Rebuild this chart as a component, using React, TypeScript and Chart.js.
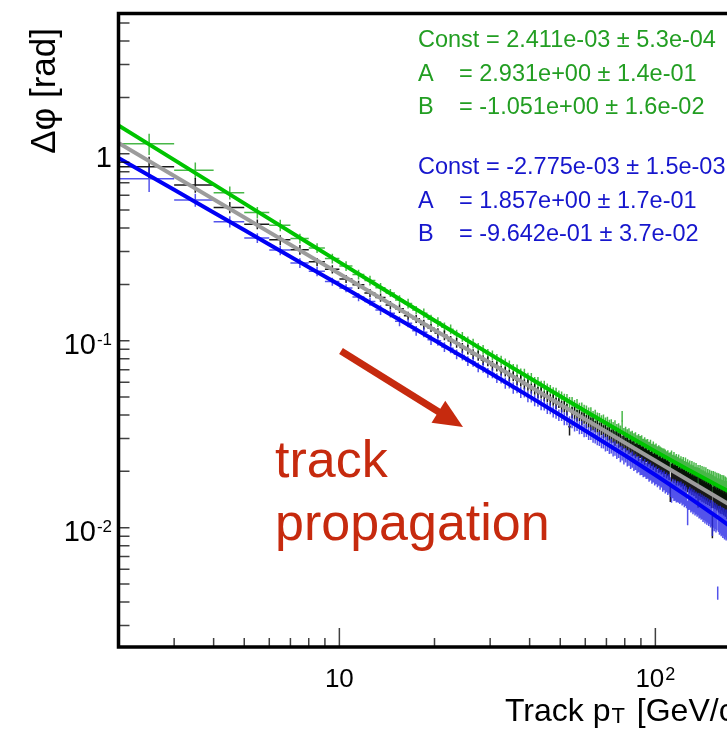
import React, { useEffect, useRef } from 'react';
import { Chart, registerables } from 'chart.js';

Chart.register(...registerables);

// Track pT histogram binning (GeV): 1 GeV wide bins from 2 GeV upward
const BIN_START = 2;
const BIN_WIDTH = 1;

// Mean Δφ per bin [rad]; one entry per bin, 2.5 … 169.5 GeV
const dphiGreen = [
  1.13, 0.815, 0.618, 0.484, 0.414, 0.352, 0.313, 0.275, 0.251, 0.226,
  0.210, 0.192, 0.180, 0.165, 0.158, 0.146, 0.140, 0.130, 0.126, 0.118,
  0.115, 0.108, 0.105, 0.0992, 0.0965, 0.0918, 0.0895, 0.0852, 0.0836, 0.0801,
  0.0784, 0.0751, 0.0739, 0.0708, 0.0697, 0.0669, 0.0661, 0.0636, 0.0627, 0.0604,
  0.0598, 0.0576, 0.0571, 0.0551, 0.0546, 0.0527, 0.0524, 0.0506, 0.0504, 0.0486,
  0.0484, 0.0467, 0.0467, 0.0450, 0.0451, 0.0435, 0.0436, 0.0420, 0.0421, 0.0407,
  0.0408, 0.0393, 0.0396, 0.0382, 0.0384, 0.0370, 0.0373, 0.0360, 0.0363, 0.0350,
  0.0352, 0.0340, 0.0344, 0.0332, 0.0335, 0.0323, 0.0372, 0.0316, 0.0318, 0.0308,
  0.0312, 0.0300, 0.0305, 0.0293, 0.0297, 0.0286, 0.0291, 0.0281, 0.0286, 0.0274,
  0.0279, 0.0269, 0.0273, 0.0264, 0.0268, 0.0258, 0.0263, 0.0253, 0.0259, 0.0248,
  0.0251, 0.0247, 0.0244, 0.0242, 0.0239, 0.0238, 0.0233, 0.0234, 0.0229, 0.0230,
  0.0233, 0.0223, 0.0229, 0.0219, 0.0225, 0.0216, 0.0222, 0.0212, 0.0219, 0.0209,
  0.0215, 0.0205, 0.0212, 0.0203, 0.0209, 0.0199, 0.0206, 0.0196, 0.0203, 0.0194,
  0.0200, 0.0191, 0.0198, 0.0188, 0.0195, 0.0186, 0.0193, 0.0183, 0.0191, 0.0181,
  0.0189, 0.0179, 0.0186, 0.0176, 0.0184, 0.0174, 0.0182, 0.0172, 0.0180, 0.0170,
  0.0178, 0.0168, 0.0176, 0.0166, 0.0174, 0.0164, 0.0173, 0.0162, 0.0171, 0.0160,
  0.0169, 0.0159, 0.0167, 0.0157, 0.0166, 0.0156, 0.0164, 0.0155,
];

const dphiBlack = [
  0.852, 0.680, 0.516, 0.420, 0.346, 0.306, 0.264, 0.241, 0.214, 0.199,
  0.180, 0.170, 0.155, 0.148, 0.136, 0.131, 0.122, 0.117, 0.110, 0.107,
  0.100, 0.0975, 0.0918, 0.0898, 0.0849, 0.0832, 0.0789, 0.0776, 0.0737, 0.0728,
  0.0692, 0.0684, 0.0652, 0.0645, 0.0616, 0.0611, 0.0584, 0.0580, 0.0555, 0.0552,
  0.0529, 0.0527, 0.0505, 0.0504, 0.0483, 0.0483, 0.0463, 0.0464, 0.0445, 0.0446,
  0.0428, 0.0346, 0.0413, 0.0413, 0.0398, 0.0399, 0.0384, 0.0386, 0.0371, 0.0373,
  0.0359, 0.0361, 0.0348, 0.0351, 0.0337, 0.0340, 0.0327, 0.0331, 0.0318, 0.0321,
  0.0309, 0.0313, 0.0301, 0.0305, 0.0293, 0.0297, 0.0285, 0.0290, 0.0278, 0.0283,
  0.0271, 0.0276, 0.0265, 0.0269, 0.0258, 0.0263, 0.0252, 0.0258, 0.0247, 0.0252,
  0.0241, 0.0247, 0.0236, 0.0242, 0.0231, 0.0237, 0.0226, 0.0232, 0.0222, 0.0228,
  0.0218, 0.0223, 0.0214, 0.0219, 0.0209, 0.0215, 0.0206, 0.0211, 0.0202, 0.0156,
  0.0198, 0.0203, 0.0194, 0.0200, 0.0191, 0.0196, 0.0188, 0.0193, 0.0185, 0.0190,
  0.0182, 0.0187, 0.0179, 0.0184, 0.0176, 0.0181, 0.0173, 0.0178, 0.0170, 0.0176,
  0.0168, 0.0173, 0.0165, 0.0171, 0.0145, 0.0168, 0.0161, 0.0166, 0.0158, 0.0164,
  0.0156, 0.0161, 0.0154, 0.0159, 0.0152, 0.0157, 0.0150, 0.0155, 0.0148, 0.0102,
  0.0146, 0.0151, 0.0144, 0.0149, 0.0142, 0.0147, 0.0140, 0.0145, 0.0138, 0.0143,
  0.0137, 0.0141, 0.0135, 0.0139, 0.0133, 0.0138, 0.0131, 0.0136,
];

const dphiBlue = [
  0.735, 0.566, 0.433, 0.354, 0.305, 0.260, 0.235, 0.207, 0.191, 0.171,
  0.162, 0.146, 0.140, 0.127, 0.124, 0.113, 0.111, 0.101, 0.0998, 0.0925,
  0.0910, 0.0845, 0.0834, 0.0778, 0.0771, 0.0722, 0.0716, 0.0673, 0.0669, 0.0631,
  0.0627, 0.0594, 0.0590, 0.0560, 0.0557, 0.0530, 0.0528, 0.0503, 0.0502, 0.0479,
  0.0477, 0.0456, 0.0455, 0.0436, 0.0435, 0.0418, 0.0416, 0.0400, 0.0400, 0.0384,
  0.0384, 0.0369, 0.0370, 0.0355, 0.0357, 0.0343, 0.0344, 0.0331, 0.0332, 0.0320,
  0.0320, 0.0309, 0.0310, 0.0300, 0.0300, 0.0289, 0.0291, 0.0281, 0.0282, 0.0272,
  0.0274, 0.0264, 0.0266, 0.0256, 0.0259, 0.0249, 0.0251, 0.0242, 0.0245, 0.0236,
  0.0238, 0.0229, 0.0232, 0.0223, 0.0226, 0.0217, 0.0220, 0.0212, 0.0215, 0.0207,
  0.0210, 0.0202, 0.0205, 0.0198, 0.0201, 0.0193, 0.0196, 0.0189, 0.0192, 0.0185,
  0.0188, 0.0181, 0.0184, 0.0177, 0.0180, 0.0173, 0.0176, 0.0170, 0.0173, 0.0166,
  0.0156, 0.0163, 0.0158, 0.0160, 0.0155, 0.0157, 0.0156, 0.0154, 0.0156, 0.0151,
  0.0153, 0.0148, 0.0150, 0.0146, 0.0121, 0.0143, 0.0145, 0.0140, 0.0142, 0.0137,
  0.0140, 0.0135, 0.0137, 0.0133, 0.0135, 0.0130, 0.0133, 0.0128, 0.0131, 0.0126,
  0.0129, 0.0124, 0.0127, 0.0122, 0.0125, 0.0120, 0.0123, 0.0118, 0.0121, 0.0106,
  0.0119, 0.0114, 0.0117, 0.0112, 0.0115, 0.00448, 0.0113, 0.0109, 0.0112, 0.0107,
  0.0110, 0.0106, 0.0109, 0.0104, 0.0107, 0.0103, 0.0106, 0.0102,
];

// Relative uncertainty of each bin mean, in percent
const errGreen = [
  13, 10, 8, 7, 7, 6, 6, 6, 6, 6,
  6, 6, 5, 6, 6, 5, 6, 6, 6, 6,
  6, 6, 6, 6, 6, 6, 6, 6, 6, 6,
  6, 7, 6, 6, 7, 6, 7, 6, 7, 6,
  7, 6, 7, 7, 6, 7, 7, 7, 6, 7,
  7, 7, 7, 7, 8, 7, 7, 8, 7, 8,
  8, 7, 8, 8, 7, 8, 8, 8, 8, 8,
  8, 8, 9, 8, 8, 9, 13, 8, 9, 9,
  9, 9, 8, 9, 9, 9, 9, 10, 9, 9,
  9, 10, 9, 9, 10, 9, 10, 10, 9, 10,
  10, 10, 10, 10, 11, 10, 10, 11, 10, 10,
  11, 10, 11, 11, 10, 11, 11, 11, 10, 11,
  11, 11, 12, 11, 11, 12, 11, 11, 12, 11,
  12, 11, 12, 12, 11, 12, 12, 12, 12, 12,
  12, 12, 13, 12, 12, 13, 12, 13, 12, 13,
  13, 12, 13, 13, 13, 12, 13, 13, 13, 13,
  13, 13, 14, 13, 13, 14, 13, 14,
];

const errBlack = [
  13, 9, 7, 6, 6, 6, 5, 5, 5, 5,
  5, 5, 5, 5, 5, 5, 6, 5, 6, 6,
  6, 6, 6, 6, 6, 6, 6, 6, 6, 6,
  6, 6, 7, 6, 6, 7, 6, 7, 6, 7,
  7, 7, 6, 7, 7, 7, 7, 6, 7, 7,
  7, 10, 7, 8, 7, 7, 8, 7, 8, 8,
  8, 8, 7, 8, 8, 8, 8, 8, 8, 9,
  8, 9, 9, 8, 9, 9, 9, 9, 9, 9,
  9, 9, 9, 10, 9, 9, 10, 9, 10, 10,
  10, 9, 10, 10, 10, 10, 10, 10, 11, 10,
  10, 11, 10, 11, 11, 10, 11, 11, 11, 12,
  11, 11, 11, 11, 12, 11, 11, 12, 11, 12,
  12, 11, 12, 12, 12, 12, 12, 12, 12, 12,
  12, 12, 13, 12, 12, 12, 13, 12, 13, 13,
  13, 13, 13, 13, 13, 13, 13, 13, 14, 14,
  13, 14, 13, 14, 13, 14, 14, 13, 14, 14,
  14, 14, 14, 14, 14, 14, 15, 14,
];

const errBlue = [
  15, 8, 7, 6, 6, 6, 6, 5, 5, 5,
  5, 6, 5, 6, 5, 6, 6, 6, 6, 6,
  6, 6, 6, 6, 6, 6, 6, 6, 6, 6,
  6, 7, 6, 7, 6, 7, 6, 7, 7, 7,
  7, 7, 7, 7, 7, 7, 8, 7, 7, 8,
  8, 7, 8, 8, 8, 8, 8, 8, 8, 8,
  8, 8, 9, 8, 9, 8, 9, 9, 9, 9,
  9, 9, 9, 9, 9, 10, 9, 10, 9, 10,
  10, 10, 10, 10, 10, 10, 10, 10, 11, 10,
  11, 10, 11, 11, 11, 11, 11, 11, 11, 11,
  11, 12, 11, 12, 12, 12, 12, 12, 12, 12,
  13, 12, 12, 13, 12, 13, 13, 13, 13, 13,
  13, 13, 13, 13, 15, 13, 14, 14, 14, 14,
  14, 14, 14, 14, 14, 14, 15, 14, 15, 15,
  15, 15, 15, 15, 15, 15, 15, 15, 16, 15,
  16, 16, 16, 16, 16, 8, 16, 16, 17, 16,
  17, 17, 17, 17, 17, 17, 18, 17,
];

// Fit results, f(pT) = Const + A * pT^B
const fitGreen = { c: 2.411e-3, cErr: 5.3e-4, a: 2.931, aErr: 1.4e-1, b: -1.051, bErr: 1.6e-2 };
const fitBlue = { c: -2.775e-3, cErr: 1.5e-3, a: 1.857, aErr: 1.7e-1, b: -0.9642, bErr: 3.7e-2 };

// pT values at which the fitted curves are evaluated
const fitPt = [2, 2.5, 3, 4, 5, 6, 8, 10, 13, 16, 20, 25, 32, 40, 50, 63, 80, 100, 125, 160, 200];

// Reference curve for the black points
const grayCurvePt = [2, 200];
const grayCurveDphi = [1.14, 0.0114];

// Axis ticks
const xMajorTicks = [10, 100];
const xMajorLabels: [string, string][] = [['10', ''], ['10', '2']];
const xMinorTicks = [3, 4, 5, 6, 7, 8, 9, 20, 30, 40, 50, 60, 70, 80, 90, 200];
const yMajorTicks = [1, 0.1, 0.01];
const yMajorLabels: [string, string][] = [['1', ''], ['10', '-1'], ['10', '-2']];
const yMinorTicks = [
  5, 4, 3, 2,
  0.9, 0.8, 0.7, 0.6, 0.5, 0.4, 0.3, 0.2,
  0.09, 0.08, 0.07, 0.06, 0.05, 0.04, 0.03, 0.02,
  0.009, 0.008, 0.007, 0.006, 0.005, 0.004, 0.003,
];

const FONT = '"Liberation Sans", Arial, Helvetica, sans-serif';
const GREEN_TEXT = 'rgb(34,158,34)';
const BLUE_TEXT = 'rgb(22,22,205)';
const RED = 'rgb(198,42,14)';

function sci(v: number, digits: number): string {
  const [m, e] = v.toExponential(digits).split('e');
  const n = parseInt(e, 10);
  return `${m}e${n < 0 ? '-' : '+'}${String(Math.abs(n)).padStart(2, '0')}`;
}

function binPoints(values: number[]) {
  return values.map((v, i) => ({ x: BIN_START + BIN_WIDTH * (i + 0.5), y: v }));
}

function fitCurve(f: { c: number; a: number; b: number }) {
  return fitPt.map((pt) => ({ x: pt, y: f.c + f.a * Math.pow(pt, f.b) }));
}

const binErrorsPlugin = {
  id: 'binErrors',
  beforeDatasetsDraw(chart: any) {
    const { ctx, chartArea: a, scales } = chart;
    const xs = scales.x;
    const ys = scales.y;
    ctx.save();
    ctx.beginPath();
    ctx.rect(a.left, a.top, a.right - a.left, a.bottom - a.top);
    ctx.clip();
    chart.data.datasets.forEach((ds: any) => {
      if (!ds.relErr) return;
      ctx.strokeStyle = ds.barColor;
      ctx.lineWidth = 1.5;
      ctx.beginPath();
      ds.data.forEach((p: { x: number; y: number }, i: number) => {
        const px = xs.getPixelForValue(p.x);
        const x0 = xs.getPixelForValue(p.x - BIN_WIDTH / 2);
        const x1 = xs.getPixelForValue(p.x + BIN_WIDTH / 2);
        const py = ys.getPixelForValue(p.y);
        const e = (p.y * ds.relErr[i]) / 100;
        const y0 = ys.getPixelForValue(p.y + e);
        const y1 = ys.getPixelForValue(Math.max(p.y - e, 1e-6));
        ctx.moveTo(x0, py);
        ctx.lineTo(x1, py);
        ctx.moveTo(px, y0);
        ctx.lineTo(px, y1);
      });
      ctx.stroke();
    });
    ctx.restore();
  },
};

function drawLabel(ctx: CanvasRenderingContext2D, main: string, sup: string, x: number, base: number,
  size: number, supSize: number, align: 'right' | 'center') {
  ctx.font = `${size}px ${FONT}`;
  const mw = ctx.measureText(main).width;
  ctx.font = `${supSize}px ${FONT}`;
  const sw = sup ? ctx.measureText(sup).width + 1 : 0;
  const start = align === 'right' ? x - mw - sw : x - (mw + sw) / 2;
  ctx.textAlign = 'left';
  ctx.font = `${size}px ${FONT}`;
  ctx.fillText(main, start, base);
  if (sup) {
    ctx.font = `${supSize}px ${FONT}`;
    ctx.fillText(sup, start + mw + 1, base - 0.716 * (size - supSize) - 1);
  }
}

const framePlugin = {
  id: 'rootFrame',
  afterDraw(chart: any) {
    const { ctx, chartArea: a, scales } = chart;
    const xs = scales.x;
    const ys = scales.y;
    ctx.save();

    // ticks
    ctx.strokeStyle = 'rgba(0,0,0,0.75)';
    ctx.lineWidth = 1.5;
    ctx.beginPath();
    [...yMajorTicks, ...yMinorTicks].forEach((v) => {
      const py = ys.getPixelForValue(v);
      ctx.moveTo(a.left, py);
      ctx.lineTo(a.left + 11, py);
    });
    xMinorTicks.forEach((v) => {
      const px = xs.getPixelForValue(v);
      ctx.moveTo(px, a.bottom);
      ctx.lineTo(px, a.bottom - 9);
    });
    xMajorTicks.forEach((v) => {
      const px = xs.getPixelForValue(v);
      ctx.moveTo(px, a.bottom);
      ctx.lineTo(px, a.bottom - 19);
    });
    ctx.stroke();

    // frame
    ctx.strokeStyle = '#000';
    ctx.lineWidth = 3.5;
    ctx.strokeRect(a.left, a.top, a.right - a.left, a.bottom - a.top);

    // tick labels
    ctx.fillStyle = '#000';
    ctx.textBaseline = 'alphabetic';
    yMajorTicks.forEach((v, i) => {
      const [m, s] = yMajorLabels[i];
      drawLabel(ctx, m, s, 112, ys.getPixelForValue(v) + 13.5, 29, 17, 'right');
    });
    xMajorTicks.forEach((v, i) => {
      const [m, s] = xMajorLabels[i];
      drawLabel(ctx, m, s, xs.getPixelForValue(v), 687, 26, 18, 'center');
    });

    // axis titles
    ctx.save();
    ctx.translate(55, 28);
    ctx.rotate(-Math.PI / 2);
    ctx.font = `35px ${FONT}`;
    ctx.textAlign = 'right';
    ctx.fillText('Δφ [rad]', 0, 0);
    ctx.restore();

    ctx.textAlign = 'left';
    ctx.font = `32px ${FONT}`;
    let tx = 505;
    ctx.fillText('Track p', tx, 721);
    tx += ctx.measureText('Track p').width + 1;
    ctx.font = `22px ${FONT}`;
    ctx.fillText('T', tx, 723);
    tx += ctx.measureText('T').width + 3;
    ctx.font = `32px ${FONT}`;
    ctx.fillText(' [GeV/c]', tx, 721);

    // fit statistics
    const statRows = (f: typeof fitGreen, color: string, y0: number) => {
      ctx.fillStyle = color;
      ctx.font = `23.5px ${FONT}`;
      ctx.fillText(`Const = ${sci(f.c, 3)} ± ${sci(f.cErr, 1)}`, 418, y0);
      ctx.fillText('A', 418, y0 + 34);
      ctx.fillText(`= ${sci(f.a, 3)} ± ${sci(f.aErr, 1)}`, 459, y0 + 34);
      ctx.fillText('B', 418, y0 + 67);
      ctx.fillText(`= ${sci(f.b, 3)} ± ${sci(f.bErr, 1)}`, 459, y0 + 67);
    };
    statRows(fitGreen, GREEN_TEXT, 47);
    statRows(fitBlue, BLUE_TEXT, 174);

    // annotation
    ctx.fillStyle = RED;
    ctx.font = `52px ${FONT}`;
    ctx.fillText('track', 275, 477);
    ctx.fillText('propagation', 275, 540);

    const sx = 341, sy = 351, ex = 463, ey = 427;
    const len = Math.hypot(ex - sx, ey - sy);
    const ux = (ex - sx) / len, uy = (ey - sy) / len;
    const headLen = 29, headHalf = 13;
    const bx = ex - ux * headLen, by = ey - uy * headLen;
    ctx.strokeStyle = RED;
    ctx.lineWidth = 7;
    ctx.beginPath();
    ctx.moveTo(sx, sy);
    ctx.lineTo(bx + ux * 2, by + uy * 2);
    ctx.stroke();
    ctx.beginPath();
    ctx.moveTo(ex, ey);
    ctx.lineTo(bx - uy * headHalf, by + ux * headHalf);
    ctx.lineTo(bx + uy * headHalf, by - ux * headHalf);
    ctx.closePath();
    ctx.fill();

    ctx.restore();
  },
};

export default function App() {
  const ref = useRef<HTMLCanvasElement>(null);

  useEffect(() => {
    if (!ref.current) return;
    const chart = new Chart(ref.current, {
      type: 'scatter',
      data: {
        datasets: [
          { data: binPoints(dphiGreen), relErr: errGreen, barColor: 'rgba(40,170,40,0.85)', pointRadius: 0, showLine: false } as any,
          { data: binPoints(dphiBlack), relErr: errBlack, barColor: 'rgba(0,0,0,0.9)', pointRadius: 0, showLine: false } as any,
          { data: binPoints(dphiBlue), relErr: errBlue, barColor: 'rgba(40,40,230,0.8)', pointRadius: 0, showLine: false } as any,
          { data: fitCurve(fitGreen), showLine: true, borderColor: '#00c400', borderWidth: 4, pointRadius: 0 },
          { data: grayCurvePt.map((x, i) => ({ x, y: grayCurveDphi[i] })), showLine: true, borderColor: '#9c9c9c', borderWidth: 4, pointRadius: 0 },
          { data: fitCurve(fitBlue), showLine: true, borderColor: '#0000f5', borderWidth: 4, pointRadius: 0 },
        ],
      },
      options: {
        animation: false,
        responsive: false,
        devicePixelRatio: 1,
        events: [],
        layout: { padding: { left: 118.5, top: 13.5, right: 9.5, bottom: 84 } },
        plugins: { legend: { display: false }, tooltip: { enabled: false } },
        scales: {
          x: { type: 'logarithmic', min: 2, max: 200, display: false },
          y: { type: 'logarithmic', min: 0.0023, max: 5.62, display: false },
        },
      },
      plugins: [binErrorsPlugin, framePlugin],
    });
    return () => chart.destroy();
  }, []);

  return (
    <div style={{ position: 'fixed', left: 0, top: 0, width: 727, height: 731, overflow: 'hidden', background: '#fff' }}>
      <canvas ref={ref} width={760} height={731} style={{ display: 'block', width: 760, height: 731 }} />
    </div>
  );
}
